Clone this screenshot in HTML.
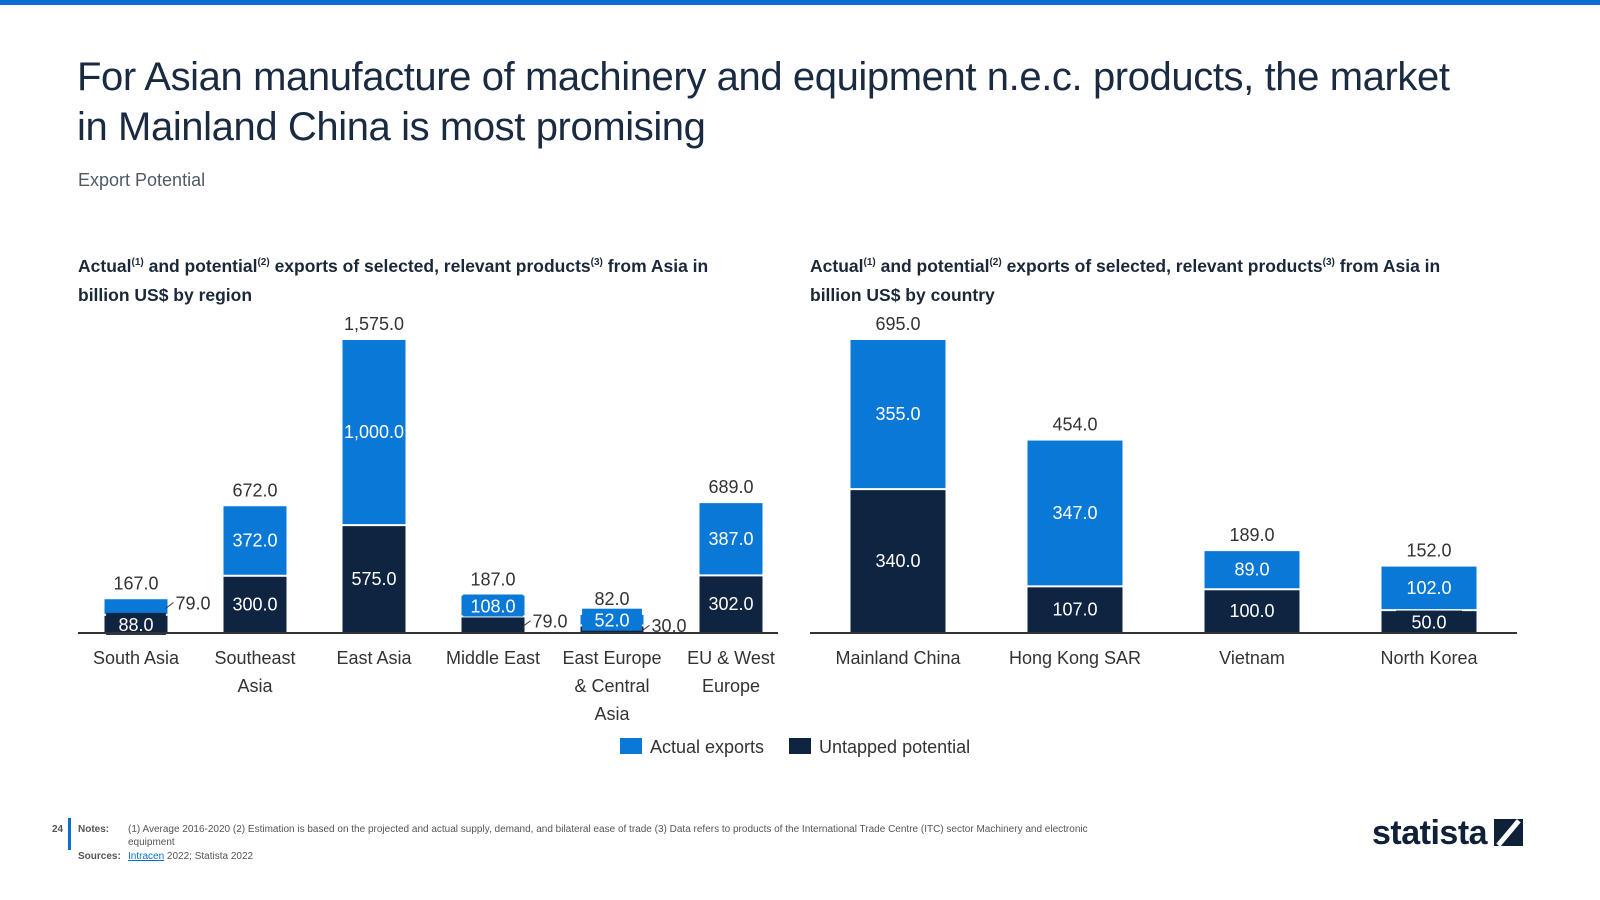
<!DOCTYPE html>
<html><head><meta charset="utf-8"><style>
body{margin:0;width:1600px;height:900px;background:#fff;font-family:"Liberation Sans",sans-serif;overflow:hidden;position:relative}
.topbar{position:absolute;left:0;top:0;width:1600px;height:5px;background:#0a6fd0}
.title{position:absolute;left:77px;top:52px;font-size:40px;line-height:50px;color:#1a2a40;font-weight:normal;letter-spacing:-0.4px;width:1390px}
.sub{position:absolute;left:78px;top:170px;font-size:18px;color:#505a66}
.ct{position:absolute;top:248px;font-size:17.5px;font-weight:bold;color:#1b2838;line-height:29px;width:665px}
svg{position:absolute;left:0;top:0}
.notes{position:absolute;left:78px;top:823px;font-size:10px;color:#555;line-height:13px}
</style></head><body>
<div class="topbar"></div>
<div class="title">For Asian manufacture of machinery and equipment n.e.c. products, the market in Mainland China is most promising</div>
<div class="sub">Export Potential</div>
<div class="ct" style="left:78px">Actual<sup style="font-size:10px">(1)</sup> and potential<sup style="font-size:10px">(2)</sup> exports of selected, relevant products<sup style="font-size:10px">(3)</sup> from Asia in billion US$ by region</div>
<div class="ct" style="left:810px">Actual<sup style="font-size:10px">(1)</sup> and potential<sup style="font-size:10px">(2)</sup> exports of selected, relevant products<sup style="font-size:10px">(3)</sup> from Asia in billion US$ by country</div>
<svg id="chart" width="1600" height="900"></svg>
<div class="notes">
<div style="position:absolute;left:-26px;top:0;font-weight:bold">24</div>
<div style="position:absolute;left:-10px;top:-5px;width:3px;height:32px;background:#0a6fd0"></div>
<div><b style="display:inline-block;width:50px">Notes:</b>(1) Average 2016-2020 (2) Estimation is based on the projected and actual supply, demand, and bilateral ease of trade (3) Data refers to products of the International Trade Centre (ITC) sector Machinery and electronic</div>
<div style="padding-left:50px">equipment</div>
<div style="margin-top:1px"><b style="display:inline-block;width:50px">Sources:</b><span style="color:#0a6fd0;text-decoration:underline">Intracen</span> 2022; Statista 2022</div>
</div>
<div style="position:absolute;left:1372px;top:814px;font-size:34px;font-weight:bold;color:#0f2138;letter-spacing:-0.5px">statista</div>
<div style="position:absolute;left:1494px;top:819px;width:29px;height:27px;background:#0f2138"><div style="position:absolute;left:12px;top:-2px;width:5px;height:32px;background:#fff;transform:rotate(40deg)"></div></div>
<script>
const regions=["South Asia","Southeast Asia","East Asia","Middle East","East Europe & Central Asia","EU & West Europe"];
const regionLabels=[["South Asia"],["Southeast","Asia"],["East Asia"],["Middle East"],["East Europe","& Central","Asia"],["EU & West","Europe"]];
const regionActual=[79,372,1000,108,52,387];
const regionUntapped=[88,300,575,79,30,302];
const countries=["Mainland China","Hong Kong SAR","Vietnam","North Korea"];
const countryActual=[355,347,89,102];
const countryUntapped=[340,107,100,50];
const BLUE="#0a78d6",DARK="#0f2440";
const svg=document.getElementById('chart');
const NS="http://www.w3.org/2000/svg";
function mk(tag,attrs,parent){const e=document.createElementNS(NS,tag);for(const k in attrs)e.setAttribute(k,attrs[k]);(parent||svg).appendChild(e);return e;}
function fmt(v){return v.toLocaleString('en-US',{minimumFractionDigits:1,maximumFractionDigits:1});}
function txt(x,y,s,fill,size,name){const t=mk('text',{x:x,y:y,'text-anchor':'middle','font-size':size||18,fill:fill||'#333','font-family':'Liberation Sans, sans-serif'});t.textContent=s;


return t;}
function boxLabel(cx,yc,bw,col,v,prefix){
  const b=mk('rect',{x:cx-bw/2,y:yc-11,width:bw,height:22,fill:col});
  
  
  txt(cx,yc+7,fmt(v),'#fff',18,prefix+'-boxed-label');
}
function sideLabel(cx,barW,sy,v,prefix){
  mk('line',{x1:cx+barW/2-2,y1:sy+2,x2:cx+barW/2+6,y2:sy-4,stroke:'#333','stroke-width':1});
  const t=txt(cx+barW/2+8,sy+3,fmt(v),'#333',18,prefix+'-side-label');
  t.setAttribute('text-anchor','start');
}
function draw(cfg){
  const {ax0,ax1,first,step,base,cats,labels,act,unt,barW,maxV,maxH,prefix}=cfg;
  const n=cats.length;
  const xs=i=>first+step*i;
  const ys=v=>v/maxV*maxH;
  for(let i=0;i<n;i++){
    const cx=xs(i),hu=ys(unt[i]),ha=ys(act[i]);
    const gap=2;
    const r1=mk('rect',{x:cx-barW/2,y:base-hu,width:barW,height:hu,fill:DARK});
    
    
    const r2=mk('rect',{x:cx-barW/2,y:base-hu-gap-ha,width:barW,height:ha,fill:BLUE});
    
    
    const top=base-hu-gap-ha;
    txt(cx,top-10,fmt(act[i]+unt[i]),'#333',18,prefix+'-total-label');
    const ycU=base-hu/2, ycA=top+ha/2;
    const bw=Math.min(barW*0.95,66);
    if(hu>=28&&ha>=28){
      txt(cx,ycU+6,fmt(unt[i]),'#fff',18,prefix+'-untapped-label');
      txt(cx,ycA+6,fmt(act[i]),'#fff',18,prefix+'-actual-label');
    } else if(ha>=28){
      txt(cx,ycA+6,fmt(act[i]),'#fff',18,prefix+'-actual-label');
      boxLabel(cx,ycU,bw,DARK,unt[i],prefix);
    } else if(hu>=28){
      txt(cx,ycU+6,fmt(unt[i]),'#fff',18,prefix+'-untapped-label');
      boxLabel(cx,ycA,bw,BLUE,act[i],prefix);
    } else {
      const bigA=act[i]>=unt[i];
      boxLabel(cx,bigA?ycA:ycU,bw,bigA?BLUE:DARK,bigA?act[i]:unt[i],prefix);
      sideLabel(cx,barW,bigA?ycU:ycA,bigA?unt[i]:act[i],prefix);
    }
    labels[i].forEach((l,j)=>txt(cx,base+32+j*28,l,'#333',18,prefix+'-category-label'));
  }
  const ax=mk('line',{x1:ax0,y1:base+1,x2:ax1,y2:base+1,stroke:'#333','stroke-width':2});
  
  
}
draw({ax0:78,ax1:778,first:136,step:119,base:632,cats:regions,labels:regionLabels,act:regionActual,unt:regionUntapped,barW:63,maxV:1575,maxH:290,prefix:'region'});
draw({ax0:810,ax1:1517,first:898,step:177,base:632,cats:countries,labels:countries.map(c=>[c]),act:countryActual,unt:countryUntapped,barW:95,maxV:695,maxH:290,prefix:'country'});
const lg=mk('g',{});


const l1=mk('rect',{x:620,y:738,width:22,height:16,fill:BLUE},lg);


const lt1=mk('text',{x:650,y:753,'font-size':18,fill:'#333'},lg);lt1.textContent='Actual exports';


const l2=mk('rect',{x:789,y:738,width:22,height:16,fill:DARK},lg);


const lt2=mk('text',{x:819,y:753,'font-size':18,fill:'#333'},lg);lt2.textContent='Untapped potential';


</script>
</body></html>
